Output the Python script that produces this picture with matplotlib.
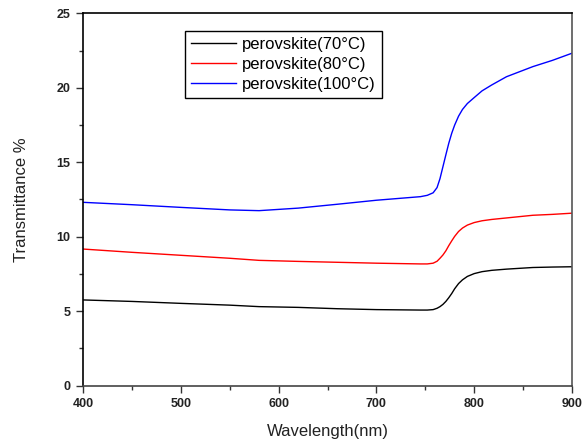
import matplotlib
matplotlib.use("Agg")
import matplotlib.pyplot as plt
from matplotlib.ticker import MultipleLocator

plt.rcParams['font.family'] = ['Liberation Sans', 'DejaVu Sans']

wavelength = [400, 450, 500, 550, 580, 620, 660, 700, 745, 752, 758, 762, 765, 768,
              771, 774, 777, 780, 784, 788, 793, 800, 808, 818, 833, 860, 880, 900]
t_70 = [5.75, 5.65, 5.52, 5.40, 5.30, 5.25, 5.16, 5.10, 5.07, 5.07, 5.10, 5.19, 5.30, 5.45,
        5.65, 5.90, 6.18, 6.50, 6.85, 7.10, 7.33, 7.52, 7.65, 7.74, 7.82, 7.93, 7.96, 7.98]
t_80 = [9.17, 8.95, 8.75, 8.55, 8.41, 8.34, 8.28, 8.22, 8.17, 8.17, 8.22, 8.35, 8.55, 8.77,
        9.05, 9.40, 9.72, 10.02, 10.35, 10.58, 10.78, 10.95, 11.07, 11.16, 11.26, 11.44, 11.50, 11.58]
t_100 = [12.31, 12.15, 11.97, 11.80, 11.75, 11.92, 12.18, 12.45, 12.69, 12.78, 12.95, 13.30, 13.90, 14.70,
         15.50, 16.28, 16.95, 17.50, 18.10, 18.55, 18.95, 19.35, 19.80, 20.20, 20.75, 21.43, 21.85, 22.33]
labels = ['perovskite(70°C)', 'perovskite(80°C)', 'perovskite(100°C)']
colors = ['black', 'red', 'blue']

fig = plt.figure(figsize=(5.88, 4.45), dpi=100)
ax = fig.add_axes([0.1412, 0.1337, 0.8316, 0.836])

for ys, lab, c in zip([t_70, t_80, t_100], labels, colors):
    ax.plot(wavelength, ys, color=c, lw=1.0, label=lab)

ax.set_xlim(400, 900)
ax.set_ylim(0, 25)
ax.xaxis.set_major_locator(MultipleLocator(100))
ax.xaxis.set_minor_locator(MultipleLocator(50))
ax.yaxis.set_major_locator(MultipleLocator(5))
ax.yaxis.set_minor_locator(MultipleLocator(2.5))
ax.tick_params(which='major', direction='out', length=5, width=1, color='#333333',
               labelsize=9, labelcolor='#222222', pad=4)
ax.tick_params(which='minor', direction='out', length=3, width=1, color='#333333')
ax.tick_params(top=False, right=False, which='both')
for lab in ax.get_xticklabels() + ax.get_yticklabels():
    lab.set_fontweight('bold')
for s in ax.spines.values():
    s.set_linewidth(1.2)
ax.spines['left'].set_color('black')
ax.spines['top'].set_color('black')
ax.spines['bottom'].set_color('#444444')
ax.spines['right'].set_color('#555555')

ax.set_xlabel('Wavelength(nm)', fontsize=12, labelpad=10, color='#222222')
ax.set_ylabel('Transmittance %', fontsize=12, labelpad=20, color='#222222')

leg = ax.legend(loc='upper left', bbox_to_anchor=(0.208, 0.953), fontsize=12,
                frameon=True, fancybox=False, framealpha=1, edgecolor='black',
                handlelength=2.7, handletextpad=0.4, borderpad=0.35, labelspacing=0.3,
                borderaxespad=0)
leg.get_frame().set_linewidth(1.0)

fig.savefig('out.png', dpi=100)
